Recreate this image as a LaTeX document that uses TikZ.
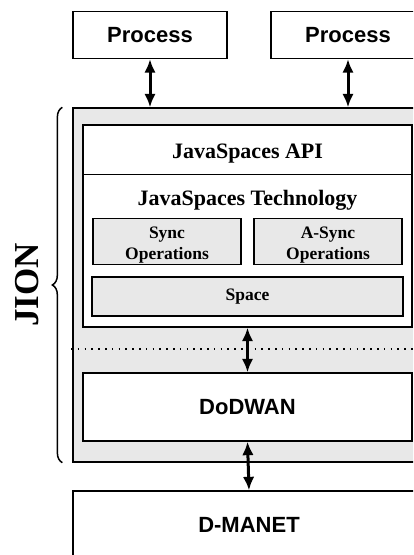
\documentclass[tikz,border=0pt]{standalone}
\usepackage{fontspec}
\setmainfont{Liberation Serif}
\newfontfamily\arialfont{Liberation Sans}
\usetikzlibrary{arrows.meta,decorations.pathreplacing}
\tikzset{
  box/.style={draw,line width=1.3pt,fill=white,inner sep=0pt},
  graybox/.style={draw,line width=1.3pt,fill=gray!18,inner sep=0pt},
  sanslabel/.style={font=\arialfont\bfseries\fontsize{22}{26}\selectfont},
  seriflabel/.style={font=\bfseries\fontsize{22}{26}\selectfont},
  smalllabel/.style={font=\bfseries\fontsize{17.5}{21}\selectfont,align=center},
  link/.style={{Latex[length=13.5pt,width=11.5pt]}-{Latex[length=13.5pt,width=11.5pt]},line width=3pt}
}
\begin{document}
\begin{tikzpicture}[x=1pt,y=-1pt]
\useasboundingbox (0,0) rectangle (413,555);
\clip (0,0) rectangle (413,555);
%进程
\node[box,sanslabel,minimum width=154pt,minimum height=47pt] (proc1) at (150,35) {Process};
\node[box,sanslabel,minimum width=154pt,minimum height=47pt] (proc2) at (348,35) {Process};
%JION外框
\node[graybox,minimum width=352pt,minimum height=354pt] (jion) at (249,285) {};
\node[box,minimum width=329pt,minimum height=202pt] (tech) at (247.5,226) {};
\coordinate (apiline) at (83,174.5);
\draw[line width=1.3pt] (tech.west |- apiline) -- (tech.east |- apiline);
\node[seriflabel,anchor=base] (api) at (247.5,158) {JavaSpaces API};
\node[seriflabel,anchor=base] (techlabel) at (247.5,205) {JavaSpaces Technology};
\node[graybox,minimum width=148pt,minimum height=46pt] (sync) at (167,241.5) {};
\node[graybox,minimum width=148pt,minimum height=46pt] (async) at (328,241.5) {};
\node[smalllabel] (synctext) at ([yshift=-4pt]sync.center) {Sync\\Operations};
\node[smalllabel] (asynctext) at ([yshift=-4pt]async.center) {A-Sync\\Operations};
\node[graybox,smalllabel,minimum width=311pt,minimum height=39pt] (space) at (247.5,296.5) {Space};
%虚线
\coordinate (dotl) at (71,349);
\draw[line width=1.5pt,dash pattern=on 1.6pt off 5.2pt] (dotl) -- (dotl -| jion.east);
\node[box,sanslabel,minimum width=329pt,minimum height=68pt] (dodwan) at (247.5,407) {DoDWAN};
\node[box,sanslabel,minimum width=352pt,minimum height=68pt] (dmanet) at (249,525) {D-MANET};
%箭头
\draw[link] (proc1.south) -- (proc1.south |- jion.north);
\draw[link] (proc2.south) -- (proc2.south |- jion.north);
\draw[link] (tech.south) -- (dodwan.north);
\draw[link] (dodwan.south) -- (dmanet.north);
%大括号
\draw[line width=1.5pt,decorate,decoration={brace,amplitude=10pt}]
  ([xshift=-10pt]jion.south west) -- ([xshift=-10pt]jion.north west);
\node[rotate=90,font=\bfseries\fontsize{35}{38}\selectfont] (jionlabel) at (27.5,285) {JION};
\end{tikzpicture}
\end{document}
